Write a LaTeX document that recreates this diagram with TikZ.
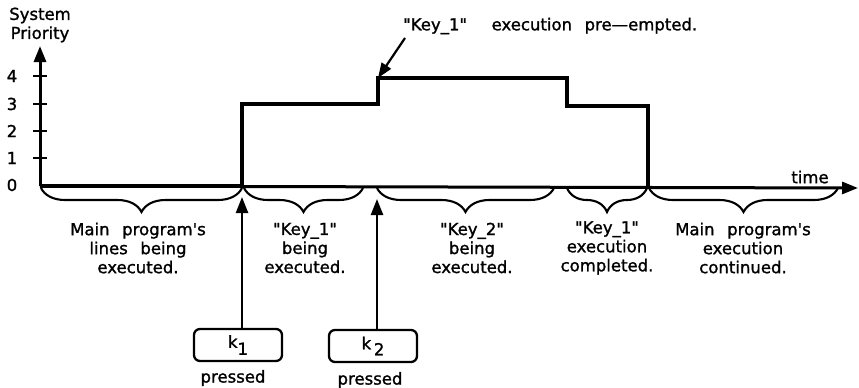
\documentclass[tikz,border=0pt]{standalone}
\usepackage{fontspec}
\newfontfamily\pf[WordSpace=2.4,FakeBold=1.3]{DejaVu Sans}
\usetikzlibrary{decorations.pathreplacing,arrows.meta}
\begin{document}
\begin{tikzpicture}[x=1pt,y=-1pt,
  lbl/.style={font=\pf\fontsize{16.5}{19}\selectfont, align=center, inner sep=0pt},
  stepline/.style={line width=3.6pt, line join=miter},
  axisline/.style={line width=3pt},
  tipstyle/.style={-{Triangle[length=16pt,width=12pt]}},
  br/.style={decorate, decoration={brace,mirror,amplitude=24pt}, line width=2.1pt},
  keybox/.style={draw, line width=2.3pt, rounded corners=6pt, minimum width=88pt, minimum height=32pt, font=\pf\fontsize{16.5}{17}\selectfont, inner sep=0pt},
  ]
\useasboundingbox (0,0) rectangle (859,388);
% axes
\coordinate (O) at (40,186);
\coordinate (ytop) at (40,46);
\coordinate (xend) at (858,188);
\draw[axisline,tipstyle] (O) -- (ytop);
\draw[axisline,tipstyle] (O) -- (xend);
\foreach \yy in {158,131,104,76} \draw[line width=2.2pt] (33,\yy) -- (47,\yy);
\node[lbl] (l0) at (12,185) {0};
\node[lbl] (l1) at (12,158) {1};
\node[lbl] (l2) at (12,131) {2};
\node[lbl] (l3) at (12,104) {3};
\node[lbl] (l4) at (12,76) {4};
\node[lbl] (ytitle) at (40,25) {System\\Priority};
\node[lbl] (xtitle) at (810,177) {time};
% step
\draw[stepline] (O) -- (242,186) -- (242,104) -- (378,104) -- (378,78) -- (567,78) -- (567,106) -- (648,106) -- (648,188);
% braces
\draw[br] (41,188) -- (242,188);
\draw[br] (244,188) -- (363,188);
\draw[br] (377,188) -- (554,188);
\draw[br] (567,188) -- (647,188);
\draw[br] (649,188) -- (838,188);
\node[lbl] (t1) at (138,248) {Main program's\\lines being\\executed.};
\node[lbl] (t2) at (305,248) {"Key\_1"\\being\\executed.};
\node[lbl] (t3) at (472,248) {"Key\_2"\\being\\executed.};
\node[lbl] (t4) at (607,248) {"Key\_1"\\execution\\completed.};
\node[lbl] (t5) at (743,248) {Main program's\\execution\\continued.};
% top annotation
\node[lbl,anchor=west] (pre) at (403,26) {"Key\_1"\hspace{12pt} execution pre—empted.};
\coordinate (pt) at (378,78);
\draw[line width=2.2pt,-{Triangle[length=15pt,width=11pt]}] (405,38) -- (pt);
% keys
\node[keybox] (k1) at (238,345) {k\raisebox{-7pt}{1}};
\node[keybox] (k2) at (373,346) {\raisebox{3pt}{k}\,\raisebox{-3pt}{2}};
\node[lbl] (p1) at (233,378) {pressed};
\node[lbl] (p2) at (370,380) {pressed};
\coordinate (a1) at (242,197);
\coordinate (a2) at (377,199);
\draw[line width=2.4pt,tipstyle] (a1 |- k1.north) -- (a1);
\draw[line width=2.4pt,tipstyle] (a2 |- k2.north) -- (a2);
\end{tikzpicture}
\end{document}
